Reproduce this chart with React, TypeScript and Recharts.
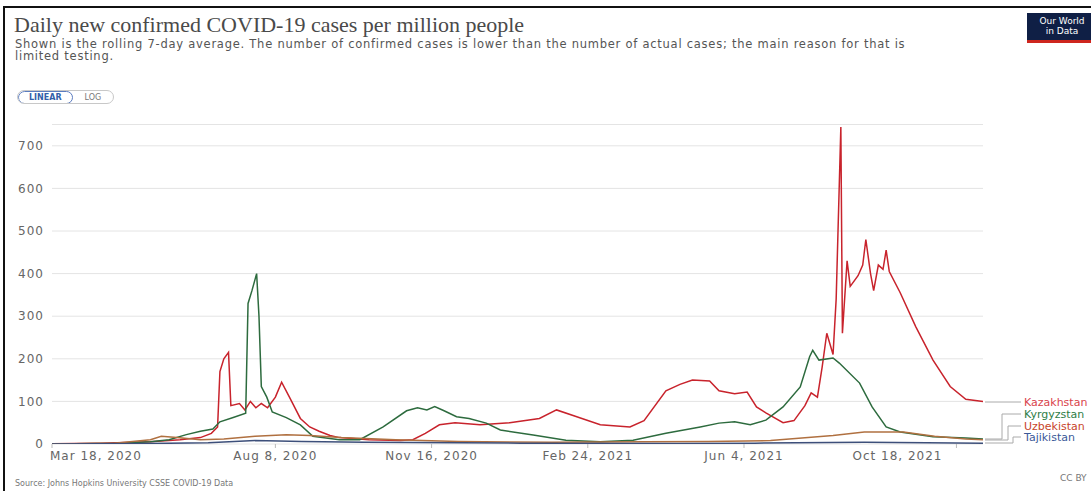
import React from 'react';
import { LineChart, Line, XAxis, YAxis, CartesianGrid } from 'recharts';

// x values are days since Mar 18, 2020
const tickDays = [0, 143, 243, 343, 443, 579];
const tickLabels = ['Mar 18, 2020', 'Aug 8, 2020', 'Nov 16, 2020', 'Feb 24, 2021', 'Jun 4, 2021', 'Oct 18, 2021'];
const yTicks = [0, 100, 200, 300, 400, 500, 600, 700];

const kazDays = [0, 31, 63, 82, 95, 102, 106, 107.5, 110, 113, 114.5, 120, 123.5, 127, 130.5, 134, 138, 143, 147, 152, 159, 165, 171, 178, 184, 203, 223, 231, 239, 248, 258, 274, 293, 312, 323, 335, 351, 370, 379, 393, 402, 410, 421, 427, 437, 445, 451, 457, 468, 475, 482, 486, 490, 493, 496, 500, 502, 505, 506, 509, 511, 516, 519, 521, 524, 526, 529, 532, 534, 536, 543, 553, 564, 575, 585, 596];
const kazValues = [0.5, 2, 5, 10, 15, 25, 40, 170, 200, 215, 90, 95, 80, 100, 85, 95, 85, 110, 145, 110, 60, 40, 30, 20, 15, 10, 8, 10, 25, 45, 50, 45, 50, 60, 80, 65, 45, 40, 55, 125, 140, 150, 148, 125, 118, 122, 87, 73, 50, 55, 90, 120, 110, 180, 260, 210, 340, 744, 260, 430, 370, 395, 420, 480, 400, 360, 420, 410, 455, 405, 355, 275, 197, 135, 105, 100];

const kyrDays = [0, 43, 63, 75, 86, 95, 103, 107.5, 116, 124, 125.5, 128, 131, 132.5, 134, 137.5, 141, 150, 159, 167, 184, 197, 212, 227, 234, 240, 245, 251, 259, 267, 278, 287, 308, 329, 351, 372, 393, 415, 427, 437, 447, 457, 468, 479, 485, 487, 491, 500, 504, 517, 525, 534, 543, 564, 585, 596];
const kyrValues = [0, 2, 5, 10, 22, 30, 35, 52, 62, 72, 330, 360, 400, 300, 135, 110, 75, 62, 45, 18, 10, 10, 40, 78, 85, 80, 88, 78, 64, 60, 49, 33, 21, 9, 5, 9, 25, 40, 49, 52, 45, 56, 87, 134, 205, 220, 197, 202, 190, 143, 87, 40, 28, 17, 14, 12];

const uzbDays = [0, 40, 63, 70, 80, 95, 110, 130, 150, 165, 185, 220, 260, 320, 380, 420, 460, 500, 520, 545, 565, 585, 596];
const uzbValues = [0, 2, 10, 18, 15, 10, 12, 18, 22, 20, 15, 10, 6, 4, 5, 6, 8, 20, 28, 28, 18, 12, 10];

const tajDays = [0, 60, 100, 130, 160, 200, 300, 400, 450, 520, 560, 596];
const tajValues = [0, 1, 3, 8, 6, 4, 2, 1, 2, 4, 3, 2];

const toPoints = (days: number[], values: number[]) => days.map((d, i) => ({ day: d, v: values[i] }));

const series = [
  { name: 'Kazakhstan', color: '#c8232c', label: '#d9434c', data: toPoints(kazDays, kazValues) },
  { name: 'Kyrgyzstan', color: '#2d6b3e', label: '#2e7d46', data: toPoints(kyrDays, kyrValues) },
  { name: 'Uzbekistan', color: '#b07040', label: '#c8452a', data: toPoints(uzbDays, uzbValues) },
  { name: 'Tajikistan', color: '#3d4f7a', label: '#3b5998', data: toPoints(tajDays, tajValues) },
];

const axisFont = { fontFamily: 'DejaVu Sans', fontSize: 12, fill: '#666', letterSpacing: 1 };

function XTick(props: any) {
  const { x, y, payload } = props;
  const i = tickDays.indexOf(payload.value);
  const anchor = i === 0 ? 'start' : i === tickDays.length - 1 ? 'end' : 'middle';
  const dx = i === 0 ? -2 : i === tickDays.length - 1 ? -14 : 0;
  return (
    <text x={x + dx} y={y} dy={10} textAnchor={anchor} {...axisFont}>
      {tickLabels[i]}
    </text>
  );
}

// legend label rows on the right, with their connector elbows
const legendRows = [
  { y: 402, from: 402, elbow: 1000 },
  { y: 414, from: 439, elbow: 1002 },
  { y: 426, from: 440, elbow: 1008 },
  { y: 437, from: 443, elbow: 1013 },
];

export default function App() {
  return (
    <div style={{ position: 'absolute', left: 0, top: 0, width: 1091, height: 491, background: '#fff', overflow: 'hidden' }}>
      <div style={{ position: 'absolute', left: 3, top: 6, right: 0, bottom: 0, borderTop: '2px solid #111', borderLeft: '2px solid #111' }} />
      <div style={{ position: 'absolute', left: 14, top: 13, fontFamily: 'Liberation Serif', fontSize: 22, lineHeight: '24px', color: '#4a4a4a', whiteSpace: 'nowrap' }}>
        Daily new confirmed COVID-19 cases per million people
      </div>
      <div style={{ position: 'absolute', left: 15, top: 39, width: 912, fontFamily: 'DejaVu Sans', fontSize: 11.5, lineHeight: '11.5px', color: '#555', letterSpacing: 0.75 }}>
        Shown is the rolling 7-day average. The number of confirmed cases is lower than the number of actual cases; the main reason for that is limited testing.
      </div>
      <div style={{ position: 'absolute', left: 17, top: 90, display: 'flex', alignItems: 'center', fontFamily: 'DejaVu Sans', fontSize: 8, border: '1px solid #c8c8c8', borderRadius: 8, overflow: 'hidden', height: 14, boxSizing: 'border-box' }}>
        <div style={{ padding: '1px 10px', color: '#3360a9', border: '1px solid #5a7bbf', borderRadius: 8, fontWeight: 'bold' }}>LINEAR</div>
        <div style={{ padding: '1px 12px', color: '#777' }}>LOG</div>
      </div>
      <div style={{ position: 'absolute', left: 1027, top: 13, width: 70, height: 30, background: '#0f1f45', borderBottom: '3px solid #ce261e', color: '#fff', fontFamily: 'DejaVu Sans', fontSize: 9, lineHeight: '10px', textAlign: 'center', paddingTop: 3, boxSizing: 'border-box' }}>
        Our World<br />in Data
      </div>

      <div style={{ position: 'absolute', left: 0, top: 0 }}>
        <LineChart width={1091} height={491} margin={{ top: 124.5, right: 108, bottom: 17, left: 0 }}>
          <CartesianGrid vertical={false} stroke="#e4e4e4" />
          <XAxis
            dataKey="day"
            type="number"
            domain={[0, 596]}
            ticks={tickDays}
            height={30}
            axisLine={false}
            tickLine={{ stroke: '#bbb' }}
            tickSize={4}
            tick={<XTick />}
            allowDataOverflow
          />
          <YAxis
            type="number"
            domain={[0, 750]}
            ticks={yTicks}
            width={52}
            axisLine={false}
            tickLine={false}
            tick={axisFont}
            allowDataOverflow
          />
          {series.map((s) => (
            <Line
              key={s.name}
              data={s.data}
              dataKey="v"
              name={s.name}
              type="linear"
              stroke={s.color}
              strokeWidth={1.5}
              dot={false}
              isAnimationActive={false}
            />
          ))}
        </LineChart>
      </div>

      <svg style={{ position: 'absolute', left: 0, top: 0 }} width={1091} height={491}>
        {legendRows.map((r, i) => (
          <polyline
            key={i}
            points={`985,${r.from} ${r.elbow},${r.from} ${r.elbow},${r.y} 1021,${r.y}`}
            fill="none"
            stroke="#aaa"
            strokeWidth={1}
          />
        ))}
        {series.map((s, i) => (
          <text key={s.name} x={1024} y={legendRows[i].y + 4} fontFamily="DejaVu Sans" fontSize={11} fill={s.label}>
            {s.name}
          </text>
        ))}
      </svg>

      <div style={{ position: 'absolute', left: 15, top: 479, fontFamily: 'DejaVu Sans', fontSize: 8, color: '#777', whiteSpace: 'nowrap' }}>
        Source: Johns Hopkins University CSSE COVID-19 Data
      </div>
      <div style={{ position: 'absolute', left: 1060, top: 473, fontFamily: 'DejaVu Sans', fontSize: 9, color: '#777', whiteSpace: 'nowrap' }}>
        CC BY
      </div>
    </div>
  );
}
